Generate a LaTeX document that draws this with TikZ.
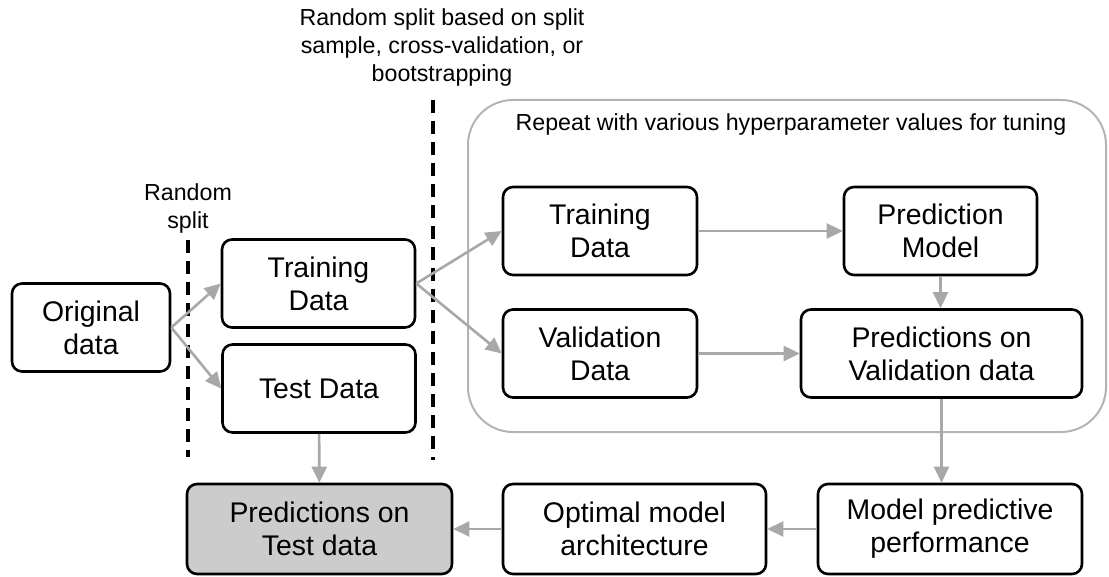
\documentclass[tikz,border=0pt]{standalone}
\usepackage{fontspec}
\setmainfont{Liberation Sans}
\usetikzlibrary{arrows.meta}
\definecolor{arrowgray}{HTML}{A8A8A8}
\definecolor{framegray}{HTML}{B4B4B4}
\definecolor{testfill}{HTML}{CCCCCC}

\begin{document}
\begin{tikzpicture}[x=1pt,y=-1pt,
    databox/.style={draw,line width=2.6pt,rounded corners=10pt,align=center,inner sep=0pt,minimum height=88pt,font=\fontsize{28.4}{33}\selectfont},
    flow/.style={draw=arrowgray,line width=2.6pt,-{Triangle[length=16pt,width=15pt]}},
    note/.style={align=center,font=\fontsize{23.2}{28}\selectfont},
    splitline/.style={line width=3.4pt,dash pattern=on 13pt off 8pt}]
    \useasboundingbox (0,0) rectangle (1109,577);
    % tuning loop frame
    \draw[framegray,line width=2pt,rounded corners=45pt] (468,100) rectangle (1106,432);
    \node[note] (repeat) at (791,125) {Repeat with various hyperparameter values for tuning};
    % split lines
    \draw[splitline] (188,240) -- (188,457);
    \draw[splitline] (433,100) -- (433,460);
    \node[note] (randsplit) at (188,209) {Random\\split};
    \node[note] (cvsplit) at (442,48) {Random split based on split\\sample, cross-validation, or\\bootstrapping};
    % boxes
    \node[databox,minimum width=158pt] (orig) at (91,327.5) {Original\\data};
    \node[databox,minimum width=193pt] (train) at (318.5,283.5) {Training\\Data};
    \node[databox,minimum width=193pt] (test) at (319,388.5) {Test Data};
    \node[databox,minimum width=194pt] (itrain) at (600,231) {Training\\Data};
    \node[databox,minimum width=194pt] (valid) at (600,353.5) {Validation\\Data};
    \node[databox,minimum width=193pt] (pmodel) at (940.5,231) {Prediction\\Model};
    \node[databox,minimum width=281pt] (pvalid) at (941.5,353.5) {Predictions on\\Validation data};
    \node[databox,minimum width=265pt,minimum height=90pt,fill=testfill] (ptest) at (319.5,529) {Predictions on\\Test data};
    \node[databox,minimum width=263pt,minimum height=90pt] (optimal) at (634.5,529) {Optimal model\\architecture};
    \node[databox,minimum width=264pt,minimum height=90pt] (mperf) at (950,529) {Model predictive\\performance};
    % arrows
    \draw[flow] (orig.east) -- (train.west);
    \draw[flow] (orig.east) -- (test.west);
    \draw[flow] (train.east) -- (itrain.west);
    \draw[flow] (train.east) -- (valid.west);
    \draw[flow] (itrain) -- (pmodel);
    \draw[flow] (valid) -- (pvalid);
    \draw[flow] (pmodel.south) -- (pmodel.south |- pvalid.north);
    \draw[flow] (pvalid.south) -- (pvalid.south |- mperf.north);
    \draw[flow] (mperf) -- (optimal);
    \draw[flow] (optimal) -- (ptest);
    \draw[flow] (test) -- (ptest);
\end{tikzpicture}
\end{document}
